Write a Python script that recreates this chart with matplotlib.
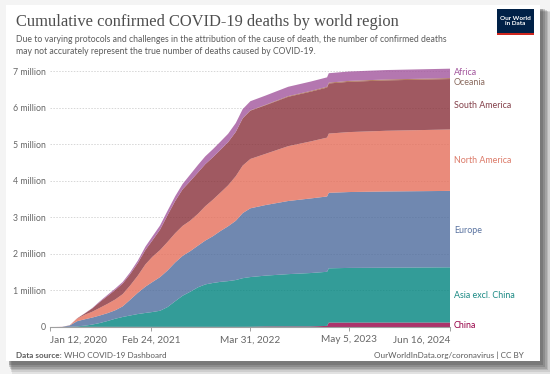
import numpy as np
import pandas as pd
import matplotlib
matplotlib.use("Agg")
import matplotlib.pyplot as plt
from matplotlib.patches import Rectangle
from matplotlib.ticker import FixedLocator, FuncFormatter

# cumulative confirmed deaths, millions
dates = ["2020-01-12", "2020-02-01", "2020-03-01", "2020-04-01", "2020-05-01",
         "2020-06-01", "2020-07-01", "2020-08-01", "2020-09-01", "2020-10-01",
         "2020-11-01", "2020-12-01", "2021-01-01", "2021-02-01", "2021-03-01",
         "2021-04-01", "2021-05-01", "2021-06-01", "2021-07-01", "2021-08-01",
         "2021-09-01", "2021-10-01", "2021-11-01", "2021-12-01", "2022-01-01",
         "2022-02-01", "2022-03-01", "2022-04-01", "2022-06-01", "2022-09-01",
         "2022-12-01", "2023-02-05", "2023-02-12", "2023-05-05", "2023-10-01",
         "2024-06-16"]
china = [0, 0.0003, 0.0029, 0.0033, 0.0046, 0.0046, 0.0046, 0.0047, 0.0047, 0.0047,
         0.0047, 0.0047, 0.0048, 0.0048, 0.0048, 0.0048, 0.0048, 0.0048, 0.0048, 0.0048,
         0.0048, 0.0048, 0.0048, 0.0048, 0.0048, 0.0048, 0.005, 0.006, 0.015, 0.016,
         0.016, 0.03, 0.12, 0.121, 0.1215, 0.122]
asia = [0, 0, 0.0001, 0.004, 0.014, 0.032, 0.062, 0.105, 0.16, 0.22,
        0.27, 0.31, 0.35, 0.38, 0.405, 0.44, 0.54, 0.70, 0.85, 0.96,
        1.08, 1.16, 1.20, 1.23, 1.25, 1.28, 1.33, 1.36, 1.39, 1.43,
        1.46, 1.48, 1.485, 1.495, 1.50, 1.51]
europe = [0, 0, 0.00003, 0.036, 0.14, 0.175, 0.192, 0.206, 0.215, 0.23,
          0.29, 0.43, 0.58, 0.72, 0.82, 0.92, 1.00, 1.06, 1.09, 1.11,
          1.14, 1.20, 1.28, 1.39, 1.50, 1.62, 1.78, 1.88, 1.93, 2.00,
          2.04, 2.06, 2.065, 2.075, 2.085, 2.09]
north_america = [0, 0, 0, 0.006, 0.072, 0.124, 0.16, 0.21, 0.255, 0.295,
                 0.335, 0.39, 0.47, 0.61, 0.69, 0.74, 0.78, 0.80, 0.82, 0.835,
                 0.87, 0.94, 1.00, 1.05, 1.12, 1.22, 1.30, 1.35, 1.40, 1.50,
                 1.56, 1.61, 1.62, 1.64, 1.66, 1.68]
south_america = [0, 0, 0, 0.0005, 0.007, 0.036, 0.09, 0.16, 0.215, 0.26,
                 0.29, 0.31, 0.345, 0.395, 0.45, 0.56, 0.73, 0.88, 1.00, 1.08,
                 1.13, 1.15, 1.16, 1.17, 1.18, 1.21, 1.29, 1.32, 1.33, 1.35,
                 1.36, 1.368, 1.37, 1.375, 1.378, 1.38]
oceania = [0, 0, 0, 0.00003, 0.0001, 0.0001, 0.0001, 0.0002, 0.0007, 0.0009,
           0.0009, 0.0009, 0.0009, 0.0009, 0.001, 0.001, 0.001, 0.001, 0.001, 0.001,
           0.0012, 0.0015, 0.0022, 0.0025, 0.0026, 0.003, 0.006, 0.009, 0.011, 0.018,
           0.02, 0.022, 0.023, 0.024, 0.025, 0.025]
africa = [0, 0, 0, 0.0002, 0.0015, 0.0045, 0.0105, 0.021, 0.031, 0.037,
          0.042, 0.05, 0.065, 0.09, 0.105, 0.112, 0.12, 0.13, 0.145, 0.18,
          0.205, 0.213, 0.218, 0.222, 0.227, 0.24, 0.248, 0.25, 0.253, 0.256,
          0.257, 0.258, 0.258, 0.258, 0.258, 0.258]

regions = ["China", "Asia excl. China", "Europe", "North America",
           "South America", "Oceania", "Africa"]
colors = ["#970046", "#00847E", "#4C6A9C", "#E56E5A", "#883039", "#9A5129", "#A2559C"]
label_colors = ["#970046", "#1b8a84", "#5a73a0", "#dc7a68", "#84404a", "#8a6a5e", "#a2559c"]
label_y = [0.05, 0.85, 2.65, 4.55, 6.05, 6.7, 6.97]

tick_dates = ["2020-01-12", "2021-02-24", "2022-03-31", "2023-05-05", "2024-06-16"]
tick_labels = ["Jan 12, 2020", "Feb 24, 2021", "Mar 31, 2022", "May 5, 2023", "Jun 16, 2024"]

x = pd.to_datetime(dates)
series = [china, asia, europe, north_america, south_america, oceania, africa]

W, H = 550, 374
fig = plt.figure(figsize=(5.5, 3.74), dpi=100)
fig.patch.set_facecolor("#f4f4f4")


def frect(x0, y0, x1, y1, z=-5, **kw):
    r = Rectangle((x0 / W, 1 - y1 / H), (x1 - x0) / W, (y1 - y0) / H,
                  transform=fig.transFigure, figure=fig, zorder=z, **kw)
    fig.patches.append(r)


# card with a soft shadow
for i, a in enumerate([0.10, 0.13, 0.16, 0.2, 0.24, 0.28]):
    d = 12 - i * 1.8
    frect(8 + d * 0.3, 8 + d * 0.3, 540 + d, 362 + d, z=-10, facecolor="#4a4a4a", alpha=a, lw=0)
frect(6, 5, 540, 361, z=-9, facecolor="white", lw=0)

ax = fig.add_axes([50 / W, 1 - 327 / H, 400 / W, (327 - 67.4) / H])
ax.set_facecolor("none")
ax.stackplot(x, *series, colors=colors, alpha=0.8, lw=0)

ax.set_xlim(pd.Timestamp("2020-01-12"), pd.Timestamp("2024-06-16"))
ax.set_ylim(0, 7.1)
for s in ["top", "right", "left"]:
    ax.spines[s].set_visible(False)
ax.spines["bottom"].set_color("#a0a0a0")
ax.spines["bottom"].set_linewidth(0.8)

ax.yaxis.set_major_locator(FixedLocator([0, 1, 2, 3, 4, 5, 6, 7]))
ax.yaxis.set_major_formatter(FuncFormatter(lambda v, p: "0" if v == 0 else "%d million" % v))
ax.tick_params(axis="y", length=0, pad=3, labelsize=6.3, labelcolor="#666666")
for lab in ax.get_yticklabels():
    lab.set_family("Lato")
ax.grid(axis="y", color="#d6d6d6", ls=(0, (1.5, 1.5)), lw=0.7)
ax.set_axisbelow(True)

ax.set_xticks(pd.to_datetime(tick_dates))
ax.set_xticklabels(tick_labels)
ax.tick_params(axis="x", length=3, width=0.7, color="#a0a0a0", pad=3,
               labelsize=7.2, labelcolor="#666666")
xl = ax.get_xticklabels()
for lab in xl:
    lab.set_family("Lato")
xl[0].set_ha("left")
xl[-1].set_ha("right")

# right-hand series labels
for name, c, yv in zip(regions, label_colors, label_y):
    ax.text(1.01, yv, name, transform=ax.get_yaxis_transform(), color=c,
            fontsize=6.4, family="Lato", va="center", ha="left", clip_on=False)

fig.text(16 / W, 1 - 22 / H, "Cumulative confirmed COVID-19 deaths by world region",
         family="Liberation Serif", fontsize=11.9, color="#4e4e4e", va="center")
fig.text(16 / W, 1 - 40 / H,
         "Due to varying protocols and challenges in the attribution of the cause of death, the number of confirmed deaths",
         family="Lato", fontsize=6.25, color="#5b5b5b", va="center")
fig.text(16 / W, 1 - 51 / H,
         "may not accurately represent the true number of deaths caused by COVID-19.",
         family="Lato", fontsize=6.25, color="#5b5b5b", va="center")

# logo
frect(497, 9, 534, 35, z=1, facecolor="#002147", lw=0)
frect(497, 33.5, 534, 35, z=1, facecolor="#ce261e", lw=0)
fig.text(515.5 / W, 1 - 21 / H, "Our World\nin Data", family="Lato", fontsize=4.6,
         color="white", ha="center", va="center", weight="bold", linespacing=1.0, zorder=3)

src = fig.text(16 / W, 1 - 355 / H, "Data source: ", family="Lato", fontsize=5.9,
               color="#5b5b5b", weight="bold", va="center")
fig.canvas.draw()
bb = src.get_window_extent()
fig.text(bb.x1 / W, 1 - 355 / H, "WHO COVID-19 Dashboard", family="Lato", fontsize=5.9,
         color="#5b5b5b", va="center")
fig.text(524 / W, 1 - 355 / H, "OurWorldInData.org/coronavirus | CC BY", family="Lato",
         fontsize=5.9, color="#5b5b5b", va="center", ha="right")

fig.savefig("out.png", dpi=100, facecolor=fig.get_facecolor())
